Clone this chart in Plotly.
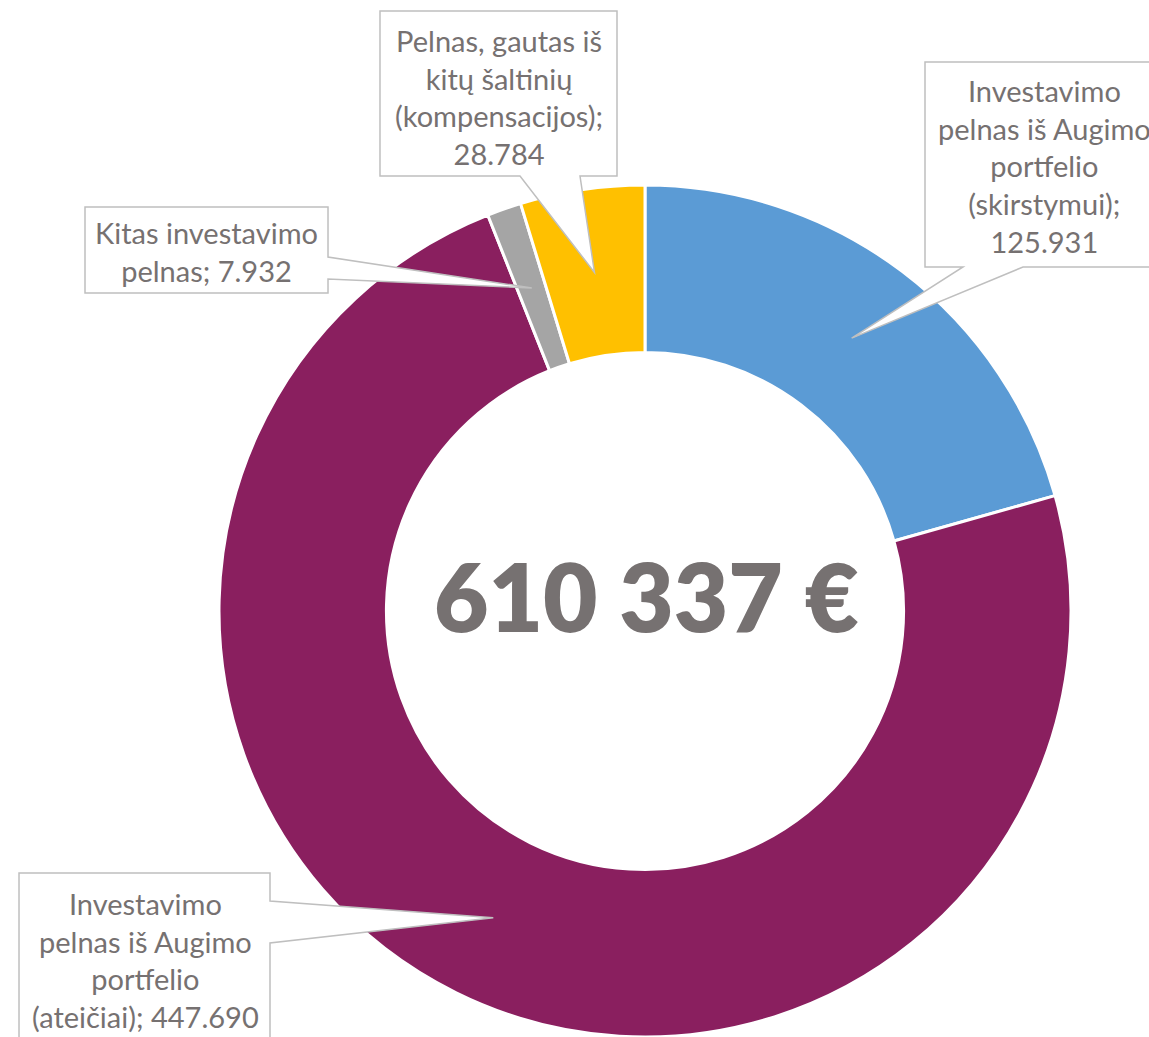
import math
import plotly.graph_objects as go

# ---- data ----
labels = [
    "Investavimo pelnas iš Augimo portfelio (skirstymui)",
    "Investavimo pelnas iš Augimo portfelio (ateičiai)",
    "Kitas investavimo pelnas",
    "Pelnas, gautas iš kitų šaltinių (kompensacijos)",
]
values = [125.931, 447.690, 7.932, 28.784]
value_labels = ["125.931", "447.690", "7.932", "28.784"]
label_lines = [
    ["Investavimo", "pelnas iš Augimo", "portfelio", "(skirstymui);"],
    ["Investavimo", "pelnas iš Augimo", "portfelio", "(ateičiai); "],
    ["Kitas investavimo", "pelnas; "],
    ["Pelnas, gautas iš", "kitų šaltinių", "(kompensacijos);"],
]
colors = ["#5B9BD5", "#8A1F5F", "#A5A5A5", "#FFC000"]
total_text = "610 337 €"

# ---- layout geometry (pixels in the page) ----
W, H = 1149, 1037
CX, CY, R = 645, 611, 426
HOLE = 0.607
TXT = "#767171"
BORDER = "#BFBFBF"


def px(x):
    return x / W


def py(y):
    return 1 - y / H


# callout boxes: (x0, y0, x1, y1), attach side, attach coords, text centre
callouts = [
    dict(box=(925, 62, 1175, 267), side="bottom", att=(963, 1023), tc=(1044, 166)),
    dict(box=(19, 873, 270, 1070), side="right", att=(901, 943), tc=(145, 960)),
    dict(box=(85, 207, 328, 293), side="right", att=(257, 279), tc=(206, 251)),
    dict(box=(380, 11, 617, 176), side="bottom", att=(520, 580), tc=(499, 97)),
]

fig = go.Figure(
    go.Pie(
        labels=labels,
        values=values,
        hole=HOLE,
        sort=False,
        direction="clockwise",
        rotation=0,
        textinfo="none",
        hoverinfo="label+value",
        marker=dict(colors=colors, line=dict(color="white", width=3)),
        domain=dict(x=[px(CX - R), px(CX + R)], y=[py(CY + R), py(CY - R)]),
        showlegend=False,
    )
)

total = sum(values)
shapes = []
annotations = []
cum = 0.0
r_mid = R * (1 + HOLE) / 2
for i, v in enumerate(values):
    mid = (cum + v / 2) / total * 2 * math.pi
    cum += v
    tx = CX + r_mid * math.sin(mid)
    ty = CY - r_mid * math.cos(mid)
    c = callouts[i]
    x0, y0, x1, y1 = c["box"]
    a, b = c["att"]
    if c["side"] == "bottom":
        pts = [(x0, y0), (x1, y0), (x1, y1), (b, y1), (tx, ty), (a, y1), (x0, y1)]
    else:
        pts = [(x0, y0), (x1, y0), (x1, a), (tx, ty), (x1, b), (x1, y1), (x0, y1)]
    path = "M " + " L ".join(f"{px(x):.5f},{py(y):.5f}" for x, y in pts) + " Z"
    shapes.append(
        dict(
            type="path",
            xref="paper",
            yref="paper",
            path=path,
            fillcolor="white",
            line=dict(color=BORDER, width=1.5),
            layer="above",
        )
    )
    lines = list(label_lines[i])
    if lines[-1].endswith(" "):
        lines[-1] = lines[-1] + value_labels[i]
    else:
        lines.append(value_labels[i])
    annotations.append(
        dict(
            x=px(c["tc"][0]),
            y=py(c["tc"][1]),
            xref="paper",
            yref="paper",
            text="<br>".join(lines),
            showarrow=False,
            align="center",
            xanchor="center",
            yanchor="middle",
            font=dict(family="Lato", size=29, color=TXT),
        )
    )

annotations.append(
    dict(
        x=px(646),
        y=py(595),
        xref="paper",
        yref="paper",
        text=total_text,
        showarrow=False,
        xanchor="center",
        yanchor="middle",
        font=dict(family="Lato", size=94, color=TXT, weight=800),
    )
)

fig.update_layout(
    width=W,
    height=H,
    margin=dict(l=0, r=0, t=0, b=0),
    paper_bgcolor="white",
    plot_bgcolor="white",
    shapes=shapes,
    annotations=annotations,
)

fig.write_html(
    "out.html",
    config={"displayModeBar": False},
    post_script="document.body.style.margin='0px';document.body.style.overflow='hidden';",
)
